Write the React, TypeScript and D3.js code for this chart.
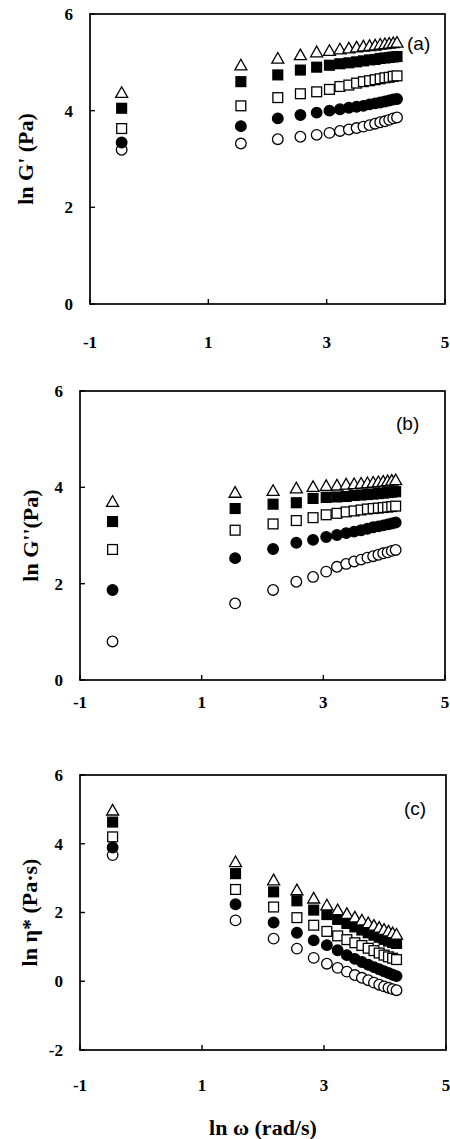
import React from 'react';
import * as d3 from 'd3';

// ln omega (rad/s) for each measured frequency
const lnOmega = [-0.465, 1.55, 2.174, 2.556, 2.831, 3.047, 3.224, 3.375, 3.506, 3.621, 3.725, 3.819, 3.905, 3.984, 4.057, 4.125, 4.189];

// (a) ln G'
const gpOpenCircle = [3.19, 3.32, 3.41, 3.46, 3.5, 3.54, 3.58, 3.61, 3.64, 3.67, 3.7, 3.73, 3.76, 3.78, 3.81, 3.84, 3.86];
const gpFilledCircle = [3.34, 3.68, 3.84, 3.91, 3.96, 4.0, 4.03, 4.06, 4.08, 4.1, 4.13, 4.15, 4.17, 4.19, 4.21, 4.23, 4.24];
const gpOpenSquare = [3.63, 4.1, 4.27, 4.35, 4.39, 4.44, 4.5, 4.53, 4.57, 4.6, 4.62, 4.64, 4.66, 4.68, 4.69, 4.71, 4.72];
const gpFilledSquare = [4.05, 4.6, 4.74, 4.84, 4.9, 4.94, 4.97, 4.99, 5.01, 5.03, 5.05, 5.06, 5.08, 5.09, 5.1, 5.11, 5.12];
const gpTriangle = [4.37, 4.94, 5.08, 5.15, 5.21, 5.24, 5.27, 5.29, 5.31, 5.33, 5.34, 5.35, 5.37, 5.38, 5.39, 5.4, 5.41];

// (b) ln G''
const gppOpenCircle = [0.8, 1.59, 1.87, 2.04, 2.14, 2.25, 2.35, 2.41, 2.46, 2.5, 2.54, 2.57, 2.6, 2.63, 2.65, 2.68, 2.7];
const gppFilledCircle = [1.87, 2.53, 2.72, 2.85, 2.91, 2.97, 3.01, 3.05, 3.08, 3.11, 3.14, 3.17, 3.19, 3.21, 3.23, 3.25, 3.27];
const gppOpenSquare = [2.71, 3.11, 3.24, 3.31, 3.37, 3.43, 3.46, 3.49, 3.51, 3.53, 3.55, 3.56, 3.57, 3.58, 3.59, 3.6, 3.61];
const gppFilledSquare = [3.29, 3.56, 3.65, 3.68, 3.77, 3.79, 3.8, 3.81, 3.83, 3.84, 3.85, 3.86, 3.87, 3.88, 3.89, 3.9, 3.91];
const gppTriangle = [3.7, 3.89, 3.93, 3.98, 4.01, 4.03, 4.04, 4.06, 4.07, 4.08, 4.09, 4.1, 4.11, 4.12, 4.13, 4.14, 4.15];

// (c) ln eta*
const etaOpenCircle = [3.67, 1.77, 1.24, 0.95, 0.68, 0.51, 0.39, 0.28, 0.18, 0.1, 0.03, -0.04, -0.1, -0.15, -0.19, -0.23, -0.26];
const etaFilledCircle = [3.89, 2.24, 1.71, 1.41, 1.19, 1.05, 0.9, 0.76, 0.65, 0.56, 0.48, 0.41, 0.35, 0.29, 0.24, 0.19, 0.15];
const etaOpenSquare = [4.2, 2.67, 2.16, 1.85, 1.63, 1.45, 1.32, 1.21, 1.12, 1.04, 0.96, 0.89, 0.82, 0.76, 0.71, 0.67, 0.63];
const etaFilledSquare = [4.63, 3.13, 2.6, 2.34, 2.07, 1.94, 1.8, 1.68, 1.58, 1.49, 1.41, 1.34, 1.28, 1.22, 1.17, 1.13, 1.1];
const etaTriangle = [4.97, 3.47, 2.94, 2.65, 2.41, 2.21, 2.07, 1.96, 1.86, 1.77, 1.69, 1.62, 1.56, 1.5, 1.45, 1.4, 1.36];

const xTicks = [-1, 1, 3, 5];

const SERIF = "'Liberation Serif', 'Times New Roman', serif";
const SANS = "'Liberation Sans', Arial, sans-serif";

type Shape = 'oc' | 'fc' | 'os' | 'fs' | 'tr';

const Marker = ({ shape, x, y }: { shape: Shape; x: number; y: number }) => {
  if (shape === 'oc' || shape === 'fc') {
    return <circle cx={x} cy={y} r={5.3} fill={shape === 'fc' ? '#000' : '#fff'} stroke="#000" strokeWidth={1.3} />;
  }
  if (shape === 'os' || shape === 'fs') {
    return <rect x={x - 4.9} y={y - 4.9} width={9.8} height={9.8} fill={shape === 'fs' ? '#000' : '#fff'} stroke="#000" strokeWidth={1.3} />;
  }
  return <path d={`M${x},${y - 6}L${x + 6},${y + 4.6}L${x - 6},${y + 4.6}Z`} fill="#fff" stroke="#000" strokeWidth={1.3} />;
};

const Panel = ({ x0, x1, yTop, yBot, yDomain, yTicks, series, label, labelPos, title, titleX, tickY }: any) => {
  const x = d3.scaleLinear().domain([-1, 5]).range([x0, x1]);
  const y = d3.scaleLinear().domain(yDomain).range([yBot, yTop]);
  return (
    <g>
      {series.map((s: any) =>
        s.values.map((v: number, i: number) => (
          <Marker key={s.shape + i} shape={s.shape} x={x(lnOmega[i])} y={y(v)} />
        ))
      )}
      <rect x={x0} y={yTop} width={x1 - x0} height={yBot - yTop} fill="none" stroke="#000" strokeWidth={1.7} />
      {yTicks.map((t: number) => (
        <g key={'y' + t}>
          <line x1={x0} x2={x0 + 5} y1={y(t)} y2={y(t)} stroke="#000" strokeWidth={1.4} />
          <text x={x0 - 17} y={y(t)} dy="0.35em" textAnchor="end" fontFamily={SERIF} fontWeight="bold" fontSize={17}>
            {t}
          </text>
        </g>
      ))}
      {xTicks.map((t) => (
        <g key={'x' + t}>
          <line x1={x(t)} x2={x(t)} y1={yBot} y2={yBot - 5} stroke="#000" strokeWidth={1.4} />
          <text x={x(t)} y={tickY} dy="0.35em" textAnchor="middle" fontFamily={SERIF} fontWeight="bold" fontSize={17}>
            {t}
          </text>
        </g>
      ))}
      <text x={labelPos[0]} y={labelPos[1]} fontFamily={SANS} fontSize={19}>
        {label}
      </text>
      <text
        transform={`translate(${titleX},${(yTop + yBot) / 2}) rotate(-90)`}
        textAnchor="middle"
        dy="0.35em"
        fontFamily={SERIF}
        fontWeight="bold"
        fontSize={22}
      >
        {title}
      </text>
    </g>
  );
};

export default function App() {
  return (
    <svg width={450} height={1139} style={{ position: 'absolute', left: 0, top: 0, background: '#fff' }}>
      <rect width={450} height={1139} fill="#fff" />
      <Panel
        x0={90} x1={445} yTop={14} yBot={304}
        yDomain={[0, 6]} yTicks={[0, 2, 4, 6]}
        series={[
          { shape: 'oc', values: gpOpenCircle },
          { shape: 'fc', values: gpFilledCircle },
          { shape: 'os', values: gpOpenSquare },
          { shape: 'fs', values: gpFilledSquare },
          { shape: 'tr', values: gpTriangle },
        ]}
        label="(a)" labelPos={[407, 50]}
        title="ln G' (Pa)" titleX={25} tickY={342}
      />
      <Panel
        x0={80} x1={445} yTop={391} yBot={680}
        yDomain={[0, 6]} yTicks={[0, 2, 4, 6]}
        series={[
          { shape: 'oc', values: gppOpenCircle },
          { shape: 'fc', values: gppFilledCircle },
          { shape: 'os', values: gppOpenSquare },
          { shape: 'fs', values: gppFilledSquare },
          { shape: 'tr', values: gppTriangle },
        ]}
        label="(b)" labelPos={[396, 430]}
        title="ln G''(Pa)" titleX={30} tickY={702}
      />
      <Panel
        x0={80} x1={446} yTop={775} yBot={1050}
        yDomain={[-2, 6]} yTicks={[-2, 0, 2, 4, 6]}
        series={[
          { shape: 'oc', values: etaOpenCircle },
          { shape: 'fc', values: etaFilledCircle },
          { shape: 'os', values: etaOpenSquare },
          { shape: 'fs', values: etaFilledSquare },
          { shape: 'tr', values: etaTriangle },
        ]}
        label="(c)" labelPos={[404, 815]}
        title="ln η* (Pa·s)" titleX={29} tickY={1085}
      />
      <text x={263} y={1127} dy="0.35em" textAnchor="middle" fontFamily={SERIF} fontWeight="bold" fontSize={22}>
        ln ω (rad/s)
      </text>
    </svg>
  );
}
